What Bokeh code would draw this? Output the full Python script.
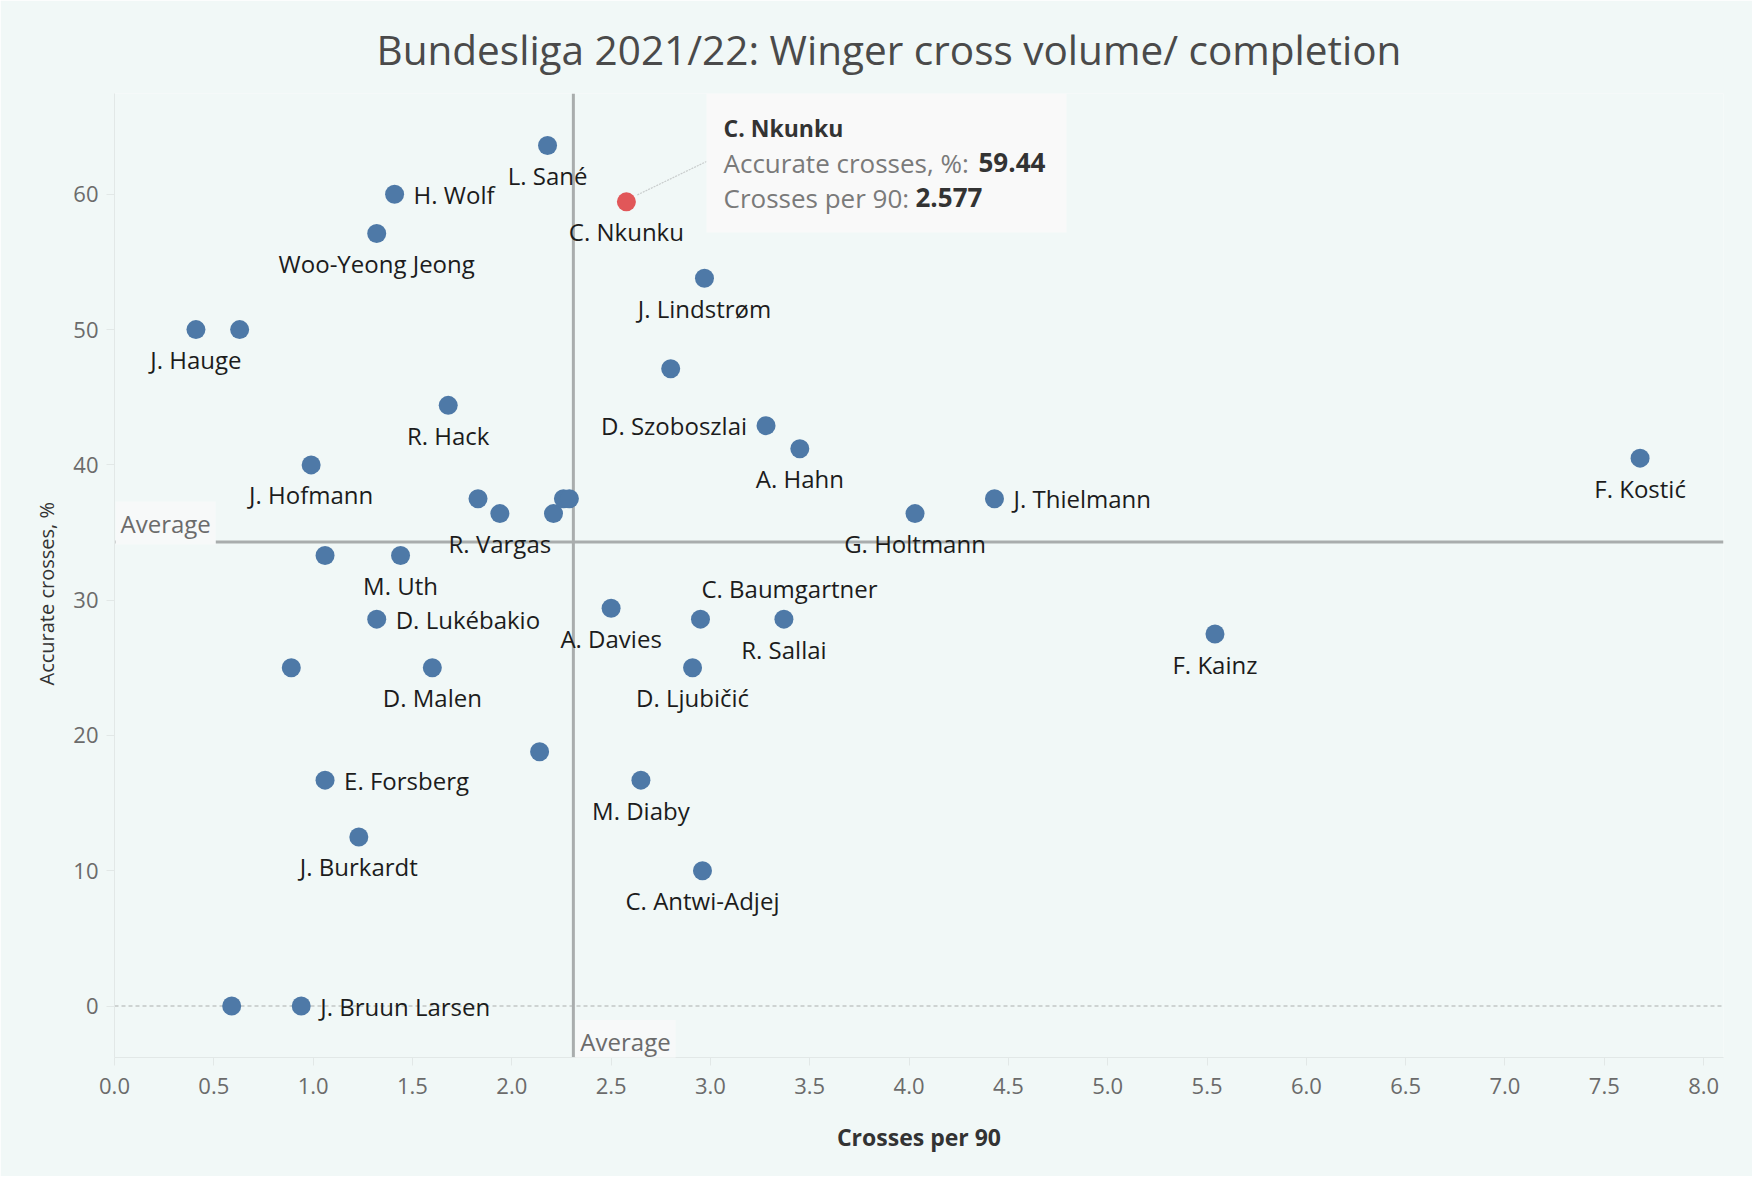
from bokeh.plotting import figure
from bokeh.models import (ColumnDataSource, Span, Label, LabelSet, BoxAnnotation, Title,
                          SingleIntervalTicker, NumeralTickFormatter, Range1d, Arrow)
from bokeh.embed import file_html
from bokeh.resources import INLINE
from bokeh.core.properties import value

# ---------------- data ----------------
players = ["L. Sané", "H. Wolf", "C. Nkunku", "Woo-Yeong Jeong", "J. Lindstrøm",
           "J. Hauge", "", "", "R. Hack", "D. Szoboszlai", "A. Hahn", "F. Kostić",
           "J. Hofmann", "", "R. Vargas", "", "", "", "G. Holtmann", "J. Thielmann",
           "", "M. Uth", "A. Davies", "C. Baumgartner", "R. Sallai", "D. Lukébakio",
           "F. Kainz", "", "D. Malen", "D. Ljubičić", "", "E. Forsberg", "M. Diaby",
           "J. Burkardt", "C. Antwi-Adjej", "", "J. Bruun Larsen"]
crosses_per_90 = [2.18, 1.41, 2.577, 1.32, 2.97,
                  0.41, 0.63, 2.80, 1.68, 3.28, 3.45, 7.68,
                  0.99, 1.83, 1.94, 2.21, 2.26, 2.29, 4.03, 4.43,
                  1.06, 1.44, 2.50, 2.95, 3.37, 1.32,
                  5.54, 0.89, 1.60, 2.91, 2.14, 1.06, 2.65,
                  1.23, 2.96, 0.59, 0.94]
accurate_pct = [63.6, 60.0, 59.44, 57.1, 53.8,
                50.0, 50.0, 47.1, 44.4, 42.9, 41.2, 40.5,
                40.0, 37.5, 36.4, 36.4, 37.5, 37.5, 36.4, 37.5,
                33.3, 33.3, 29.4, 28.6, 28.6, 28.6,
                27.5, 25.0, 25.0, 25.0, 18.8, 16.7, 16.7,
                12.5, 10.0, 0.0, 0.0]
avg_crosses = 2.31
avg_accuracy = 34.3
highlight = "C. Nkunku"
x_ticks_interval = 0.5
y_ticks_interval = 10

# label placement codes (style): b=below, r=right, l=left, ar=above-right
label_place = ["b", "r", "b", "b", "b",
               "b", "", "", "b", "l", "b", "b",
               "b", "", "b", "", "", "", "b", "r",
               "", "b", "b", "ar", "b", "r",
               "b", "", "b", "b", "", "r", "b",
               "b", "b", "", "r"]

# ---------------- style ----------------
BG = "#f1f8f7"
BLUE = "#4e79a7"
RED = "#e15759"
FONT = "Open Sans"
X0, X1 = 0.0, 8.1
Y0, Y1 = -3.8, 67.45
FW, FH = 1609, 964
PXX = FW / (X1 - X0)
PXY = FH / (Y1 - Y0)

def fx(px):
    return X0 + px / PXX

def fy(py):
    return Y1 - py / PXY

p = figure(frame_width=FW, frame_height=FH, x_range=Range1d(X0, X1), y_range=Range1d(Y0, Y1),
           output_backend="svg", toolbar_location=None,
           min_border_left=114, min_border_right=29, min_border_top=93, min_border_bottom=119,
           background_fill_color=BG, border_fill_color=BG, outline_line_color=None)

p.title.text = "Bundesliga 2021/22: Winger cross volume/ completion"
p.title.text_font = FONT
p.title.text_font_size = "40.5px"
p.title.text_font_style = "normal"
p.title.text_color = "#4a4a4a"
p.title.align = "left"
p.title.offset = 262
p.title.standoff = 34

p.xgrid.visible = False
p.ygrid.visible = False

for ax in (p.xaxis[0], p.yaxis[0]):
    ax.axis_line_color = "#e2e8e7"
    ax.major_tick_line_color = "#e2e8e7"
    ax.major_tick_out = 8
    ax.major_tick_in = 0
    ax.minor_tick_line_color = None
    ax.major_label_text_font = FONT
    ax.major_label_text_font_size = "22px"
    ax.major_label_text_color = "#6b6b6b"
    ax.axis_label_text_font = FONT
    ax.axis_label_text_color = "#333333"

p.xaxis.ticker = SingleIntervalTicker(interval=x_ticks_interval)
p.xaxis.formatter = NumeralTickFormatter(format="0.0")
p.xaxis.axis_label = "Crosses per 90"
p.xaxis.axis_label_text_font_style = "bold"
p.xaxis.axis_label_text_font_size = "23px"
p.xaxis.major_label_standoff = 12
p.xaxis.axis_label_standoff = 24

p.yaxis.ticker = SingleIntervalTicker(interval=y_ticks_interval)
p.yaxis.formatter = NumeralTickFormatter(format="0")
p.yaxis.major_label_standoff = 8

# y axis title, placed a little below the frame centre as in the original
p.add_layout(Title(text="Accurate crosses, %", align="left", offset=372, standoff=21,
                   text_font=FONT, text_font_size="20px", text_font_style="normal",
                   text_color="#333333"), "left")

# reference lines
p.add_layout(Span(location=0, dimension="width", line_color="#c2c6c6",
                  line_width=1.5, line_dash="4 3", level="underlay"))
p.add_layout(Span(location=avg_crosses, dimension="height", line_color="#a9adad",
                  line_width=3, level="underlay"))
p.add_layout(Span(location=avg_accuracy, dimension="width", line_color="#a9adad",
                  line_width=3, level="underlay"))

colors = [RED if n == highlight else BLUE for n in players]
src = ColumnDataSource(dict(x=crosses_per_90, y=accurate_pct, name=players, color=colors))
p.scatter("x", "y", source=src, size=19, fill_color="color", line_color=None)

# point labels
offsets = {"b": (0, -30, "center"), "r": (19, 0, "left"), "l": (-19, 0, "right"),
           "ar": (89, 31, "center")}
for code, (dx, dy, align) in offsets.items():
    idx = [i for i, c in enumerate(label_place) if c == code]
    s = ColumnDataSource(dict(x=[crosses_per_90[i] for i in idx],
                              y=[accurate_pct[i] for i in idx],
                              t=[players[i] for i in idx]))
    p.add_layout(LabelSet(x="x", y="y", text="t", source=s, x_offset=dx, y_offset=dy,
                          text_align=align, text_baseline="middle",
                          text_font=value(FONT), text_font_size="24px",
                          text_color="#1c1c1c"))

# average labels
p.add_layout(Label(x=X0, y=avg_accuracy, x_offset=1, y_offset=19, text="Average",
                   text_baseline="middle", text_font=FONT, text_font_size="24px",
                   text_color="#6b6b6b", background_fill_color="#f7f9f9", padding=5))
p.add_layout(Label(x=avg_crosses, y=Y0, x_offset=2, y_offset=16, text="Average",
                   text_baseline="middle", text_font=FONT, text_font_size="24px",
                   text_color="#6b6b6b", background_fill_color="#f7f9f9", padding=5))

# tooltip-style annotation for the highlighted player
hi = players.index(highlight)
hx, hy = crosses_per_90[hi], accurate_pct[hi]
p.add_layout(Arrow(x_start=hx + 11 / PXX, y_start=hy + 7 / PXY, x_end=fx(592), y_end=fy(68),
                   end=None, line_color="#c8cccc", line_width=1.2, line_dash="2 1"))
p.add_layout(BoxAnnotation(left=fx(592), right=fx(952), top=fy(0), bottom=fy(139),
                           fill_color="#f9f9f9", fill_alpha=1, line_color=None))
p.add_layout(Label(x=fx(609), y=fy(34), text=highlight, text_baseline="middle",
                   text_font=FONT, text_font_size="23px", text_font_style="bold",
                   text_color="#333333"))
p.add_layout(Label(x=fx(609), y=fy(69), text="Accurate crosses, %:", text_baseline="middle",
                   text_font=FONT, text_font_size="26px", text_color="#7a7a7a"))
p.add_layout(Label(x=fx(864), y=fy(69), text=f"{hy:.2f}", text_baseline="middle",
                   text_font=FONT, text_font_size="26px", text_font_style="bold",
                   text_color="#333333"))
p.add_layout(Label(x=fx(609), y=fy(104), text="Crosses per 90:", text_baseline="middle",
                   text_font=FONT, text_font_size="26px", text_color="#7a7a7a"))
p.add_layout(Label(x=fx(801), y=fy(104), text=f"{hx:.3f}", text_baseline="middle",
                   text_font=FONT, text_font_size="26px", text_font_style="bold",
                   text_color="#333333"))

html = file_html(p, INLINE)
html = html.replace("<body>", f'<body style="background:{BG};">', 1)
open("out.html", "w").write(html)
